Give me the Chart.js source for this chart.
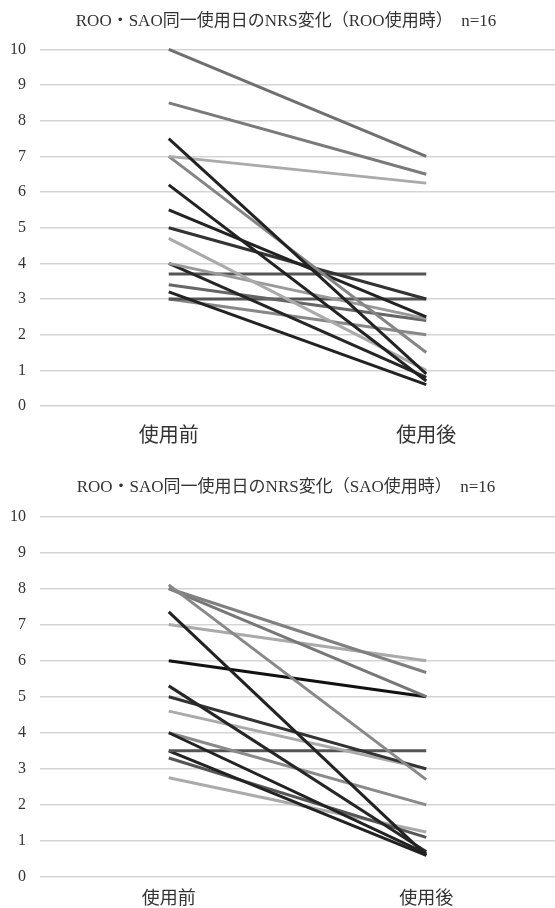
<!DOCTYPE html>
<html>
<head>
<meta charset="utf-8">
<script src="https://cdn.jsdelivr.net/npm/chart.js@4/dist/chart.umd.min.js"></script>
<style>
  html, body { margin: 0; padding: 0; background: #ffffff; }
  canvas { display: block; }
</style>
</head>
<body>
<canvas id="c1" width="555" height="455"></canvas>
<canvas id="c2" width="555" height="453"></canvas>
<script>
// ---- data ----
const categories = ['使用前', '使用後'];
const yTicks = [0, 1, 2, 3, 4, 5, 6, 7, 8, 9, 10];

const title1 = 'ROO・SAO同一使用日のNRS変化（ROO使用時）  n=16';
const rooBefore = [10, 8.5, 7.5, 7, 7, 6.2, 5.5, 5, 4.7, 4, 4, 3.7, 3.4, 3.2, 3, 3];
const rooAfter  = [7, 6.5, 0.9, 6.25, 1.5, 0.7, 2.5, 3, 1.0, 2.45, 0.8, 3.7, 2.4, 0.6, 3, 2.0];

const title2 = 'ROO・SAO同一使用日のNRS変化（SAO使用時）  n=16';
const saoBefore = [8.1, 8.0, 8.0, 7.35, 7.0, 6.0, 5.3, 5.0, 4.6, 4.0, 4.0, 3.5, 3.5, 3.3, 2.75];
const saoAfter  = [2.7, 5.67, 5.0, 0.6, 6.0, 5.0, 0.7, 3.0, 3.0, 0.65, 2.0, 3.5, 0.6, 1.1, 1.25];

// ---- styles ----
const rooColors = ['#6f6f6f', '#7a7a7a', '#222222', '#aaaaaa', '#858585', '#222222', '#222222', '#333333',
                   '#aaaaaa', '#999999', '#262626', '#555555', '#666666', '#222222', '#555555', '#888888'];
const saoColors = ['#888888', '#808080', '#777777', '#222222', '#aaaaaa', '#111111', '#262626', '#333333',
                   '#aaaaaa', '#222222', '#8a8a8a', '#555555', '#222222', '#555555', '#aaaaaa'];

const serif = "'Liberation Serif', 'Noto Sans CJK JP', serif";

function makeChart(id, title, before, after, colors, opt) {
  const datasets = before.map((b, i) => ({
    data: [b, after[i]],
    borderColor: colors[i],
    borderWidth: 3,
    pointRadius: 0,
    tension: 0,
    fill: false,
    clip: false,
    borderCapStyle: 'butt'
  }));
  return new Chart(document.getElementById(id), {
    type: 'line',
    data: { labels: categories, datasets },
    options: {
      responsive: false,
      animation: false,
      layout: { padding: 0 },
      plugins: {
        legend: { display: false },
        tooltip: { enabled: false },
        title: {
          display: true,
          text: '\u3000' + title,
          color: '#333333',
          font: { family: serif, size: 17, weight: 'normal' },
          padding: { top: opt.titleTop, bottom: opt.titleBottom }
        }
      },
      scales: {
        x: {
          offset: true,
          grid: { display: false },
          border: { display: false },
          afterFit: (s) => { s.height = opt.xHeight; },
          ticks: {
            color: '#333333',
            padding: opt.xPad,
            maxRotation: 0,
            font: { family: serif, size: opt.catSize }
          }
        },
        y: {
          min: 0,
          max: 10,
          afterBuildTicks: (s) => { s.ticks = yTicks.map(v => ({ value: v })); },
          afterFit: (s) => { s.width = 40; },
          grid: { color: '#d4d4d4', lineWidth: 1.5, drawTicks: false },
          border: { display: false },
          ticks: {
            color: '#333333',
            padding: 14,
            font: { family: serif, size: 16 }
          }
        }
      }
    }
  });
}

makeChart('c1', title1, rooBefore, rooAfter, rooColors,
  { titleTop: 11, titleBottom: 18, xPad: 11, catSize: 20, xHeight: 49 });
makeChart('c2', title2, saoBefore, saoAfter, saoColors,
  { titleTop: 22, titleBottom: 19, xPad: 3, catSize: 18, xHeight: 31 });
</script>
</body>
</html>
